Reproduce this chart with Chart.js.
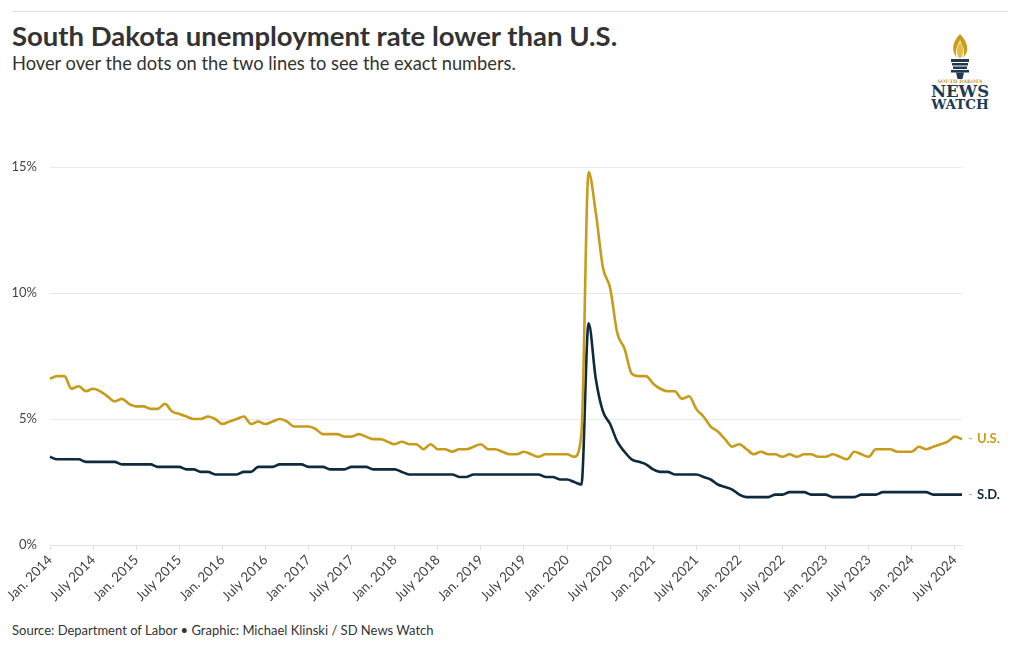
<!DOCTYPE html>
<html>
<head>
<meta charset="utf-8">
<script src="https://cdn.jsdelivr.net/npm/chart.js@4.4.1/dist/chart.umd.min.js"></script>
<style>
  body { margin: 0; background: #fff; font-family: Lato, "Open Sans", sans-serif; color: #333; }
  #wrap { position: relative; width: 1020px; height: 650px; overflow: hidden; }
  #topline { position: absolute; left: 12px; top: 11px; width: 996px; height: 1px; background: #ddd; }
  #title { position: absolute; left: 12px; top: 19px; font-size: 27.5px; font-weight: 700; color: #333; white-space: nowrap; }
  #subtitle { position: absolute; left: 12px; top: 52px; font-size: 18.3px; color: #333; white-space: nowrap; }
  #logo { position: absolute; left: 926px; top: 32px; width: 70px; height: 80px; }
  #box { position: absolute; left: 0; top: 140px; width: 1020px; height: 480px; }
  #source { position: absolute; left: 12px; top: 622px; font-size: 13px; color: #333; white-space: nowrap; }
</style>
</head>
<body>
<div id="wrap">
  <div id="topline"></div>
  <div id="title">South Dakota unemployment rate lower than U.S.</div>
  <div id="subtitle">Hover over the dots on the two lines to see the exact numbers.</div>
  <svg id="logo" viewBox="0 0 70 80">
    <path d="M34 2 C26 10 25 19 31 26 C28 18 32 13 34 8 C36 14 40 18 37 26 C44 19 42 10 34 2 Z" fill="#c89c1a"/>
    <path d="M34 10 C30 16 30 21 33 26 L35 26 C38 21 38 16 34 10 Z" fill="#e3bb45"/>
    <rect x="25" y="27" width="18" height="3" fill="#1d3a52"/>
    <rect x="26" y="31" width="16" height="2.5" fill="#1d3a52"/>
    <rect x="27" y="34.5" width="14" height="2.5" fill="#1d3a52"/>
    <rect x="25" y="38" width="18" height="2.5" fill="#1d3a52"/>
    <path d="M30 40.5 L38 40.5 L36.5 47 L31.5 47 Z" fill="#1d3a52"/>
    <text x="34" y="51" text-anchor="middle" font-family="DejaVu Serif, serif" font-size="4.8" font-weight="700" fill="#c89c1a">SOUTH DAKOTA</text>
    <text x="34" y="64.5" text-anchor="middle" font-family="DejaVu Serif, serif" font-size="16.5" font-weight="700" fill="#1d3a52">NEWS</text>
    <text x="34" y="76.5" text-anchor="middle" font-family="DejaVu Serif, serif" font-size="13.5" font-weight="700" fill="#1d3a52">WATCH</text>
  </svg>
  <div id="box"><canvas id="myChart"></canvas></div>
  <div id="source">Source: Department of Labor • Graphic: Michael Klinski / SD News Watch</div>
</div>
<script>
const monthNames = ["Jan.", "Feb.", "March", "April", "May", "June", "July", "Aug.", "Sept.", "Oct.", "Nov.", "Dec."];
const startYear = 2014;
const monthCount = 128; // Jan. 2014 .. Aug. 2024

const usRate = [
    6.6, 6.7, 6.7, 6.2, 6.3, 6.1, 6.2, 6.1, 5.9, 5.7, 5.8, 5.6,
    5.5, 5.5, 5.4, 5.4, 5.6, 5.3, 5.2, 5.1, 5.0, 5.0, 5.1, 5.0,
    4.8, 4.9, 5.0, 5.1, 4.8, 4.9, 4.8, 4.9, 5.0, 4.9, 4.7, 4.7,
    4.7, 4.6, 4.4, 4.4, 4.4, 4.3, 4.3, 4.4, 4.3, 4.2, 4.2, 4.1,
    4.0, 4.1, 4.0, 4.0, 3.8, 4.0, 3.8, 3.8, 3.7, 3.8, 3.8, 3.9,
    4.0, 3.8, 3.8, 3.7, 3.6, 3.6, 3.7, 3.6, 3.5, 3.6, 3.6, 3.6,
    3.6, 3.5, 4.4, 14.8, 13.2, 11.0, 10.2, 8.4, 7.8, 6.8, 6.7, 6.7,
    6.4, 6.2, 6.1, 6.1, 5.8, 5.9, 5.4, 5.1, 4.7, 4.5, 4.2, 3.9,
    4.0, 3.8, 3.6, 3.7, 3.6, 3.6, 3.5, 3.6, 3.5, 3.6, 3.6, 3.5,
    3.5, 3.6, 3.5, 3.4, 3.7, 3.6, 3.5, 3.8, 3.8, 3.8, 3.7, 3.7,
    3.7, 3.9, 3.8, 3.9, 4.0, 4.1, 4.3, 4.2
];

const sdRate = [
    3.5, 3.4, 3.4, 3.4, 3.4, 3.3, 3.3, 3.3, 3.3, 3.3, 3.2, 3.2,
    3.2, 3.2, 3.2, 3.1, 3.1, 3.1, 3.1, 3.0, 3.0, 2.9, 2.9, 2.8,
    2.8, 2.8, 2.8, 2.9, 2.9, 3.1, 3.1, 3.1, 3.2, 3.2, 3.2, 3.2,
    3.1, 3.1, 3.1, 3.0, 3.0, 3.0, 3.1, 3.1, 3.1, 3.0, 3.0, 3.0,
    3.0, 2.9, 2.8, 2.8, 2.8, 2.8, 2.8, 2.8, 2.8, 2.7, 2.7, 2.8,
    2.8, 2.8, 2.8, 2.8, 2.8, 2.8, 2.8, 2.8, 2.8, 2.7, 2.7, 2.6,
    2.6, 2.5, 2.4, 8.8, 6.6, 5.3, 4.8, 4.1, 3.7, 3.4, 3.3, 3.2,
    3.0, 2.9, 2.9, 2.8, 2.8, 2.8, 2.8, 2.7, 2.6, 2.4, 2.3, 2.2,
    2.0, 1.9, 1.9, 1.9, 1.9, 2.0, 2.0, 2.1, 2.1, 2.1, 2.0, 2.0,
    2.0, 1.9, 1.9, 1.9, 1.9, 2.0, 2.0, 2.0, 2.1, 2.1, 2.1, 2.1,
    2.1, 2.1, 2.1, 2.0, 2.0, 2.0, 2.0, 2.0
];

const yTicks = [0, 5, 10, 15];
const seriesNames = ["U.S.", "S.D."];
const seriesColors = ["#c89c1a", "#0e2a3d"];

function buildLabels() {
    const arr = [];
    for (let i = 0; i < monthCount; i++) {
        const m = i % 12;
        const y = startYear + Math.floor(i / 12);
        arr.push(`${monthNames[m]} ${y}`);
    }
    return arr;
}
const labels = buildLabels();

// "- U.S." / "- S.D." tags at the end of each line
const endLabels = {
    id: "endLabels",
    afterDatasetsDraw(chart) {
        const ctx = chart.ctx;
        chart.data.datasets.forEach((ds, i) => {
            const meta = chart.getDatasetMeta(i);
            const pt = meta.data[meta.data.length - 1];
            ctx.save();
            ctx.textBaseline = "middle";
            ctx.font = "13px Lato";
            ctx.fillStyle = "#aaa";
            ctx.fillText("-", pt.x + 6, pt.y);
            ctx.font = "bold 13px Lato";
            ctx.fillStyle = ds.borderColor;
            ctx.fillText(seriesNames[i], pt.x + 15, pt.y);
            ctx.restore();
        });
    }
};

const ctx = document.getElementById("myChart");
new Chart(ctx, {
    type: "line",
    data: {
        labels: labels,
        datasets: [{
            label: seriesNames[0],
            data: usRate,
            borderColor: seriesColors[0],
            borderWidth: 2.6,
            pointRadius: 0,
            cubicInterpolationMode: "monotone"
        }, {
            label: seriesNames[1],
            data: sdRate,
            borderColor: seriesColors[1],
            borderWidth: 2.6,
            pointRadius: 0,
            cubicInterpolationMode: "monotone"
        }]
    },
    options: {
        responsive: true,
        maintainAspectRatio: false,
        animation: false,
        layout: { padding: { top: 27, right: 58, left: 0, bottom: 0 } },
        plugins: {
            legend: { display: false },
            tooltip: { enabled: false }
        },
        scales: {
            x: {
                grid: {
                    drawOnChartArea: false,
                    drawTicks: true,
                    tickLength: 5,
                    color: "#ddd"
                },
                border: { color: "#e3e3e3" },
                ticks: {
                    autoSkip: false,
                    maxRotation: 45,
                    minRotation: 45,
                    padding: 2,
                    color: "#444",
                    font: { family: "Lato", size: 13.5 },
                    callback: function (val, index) {
                        const m = index % 12;
                        if (m === 0 || m === 6) {
                            return labels[index];
                        }
                        return null;
                    }
                },
                afterFit: function (scale) { scale.height = 75; }
            },
            y: {
                min: 0,
                max: 15,
                afterBuildTicks: function (scale) {
                    scale.ticks = yTicks.map(v => ({ value: v }));
                },
                grid: { color: "#e9e9e9", drawTicks: false },
                border: { display: false },
                ticks: {
                    padding: 13,
                    color: "#444",
                    font: { family: "Lato", size: 13 },
                    callback: v => v + "%"
                },
                afterFit: function (scale) { scale.width = 50; }
            }
        }
    },
    plugins: [endLabels]
});
</script>
</body>
</html>
